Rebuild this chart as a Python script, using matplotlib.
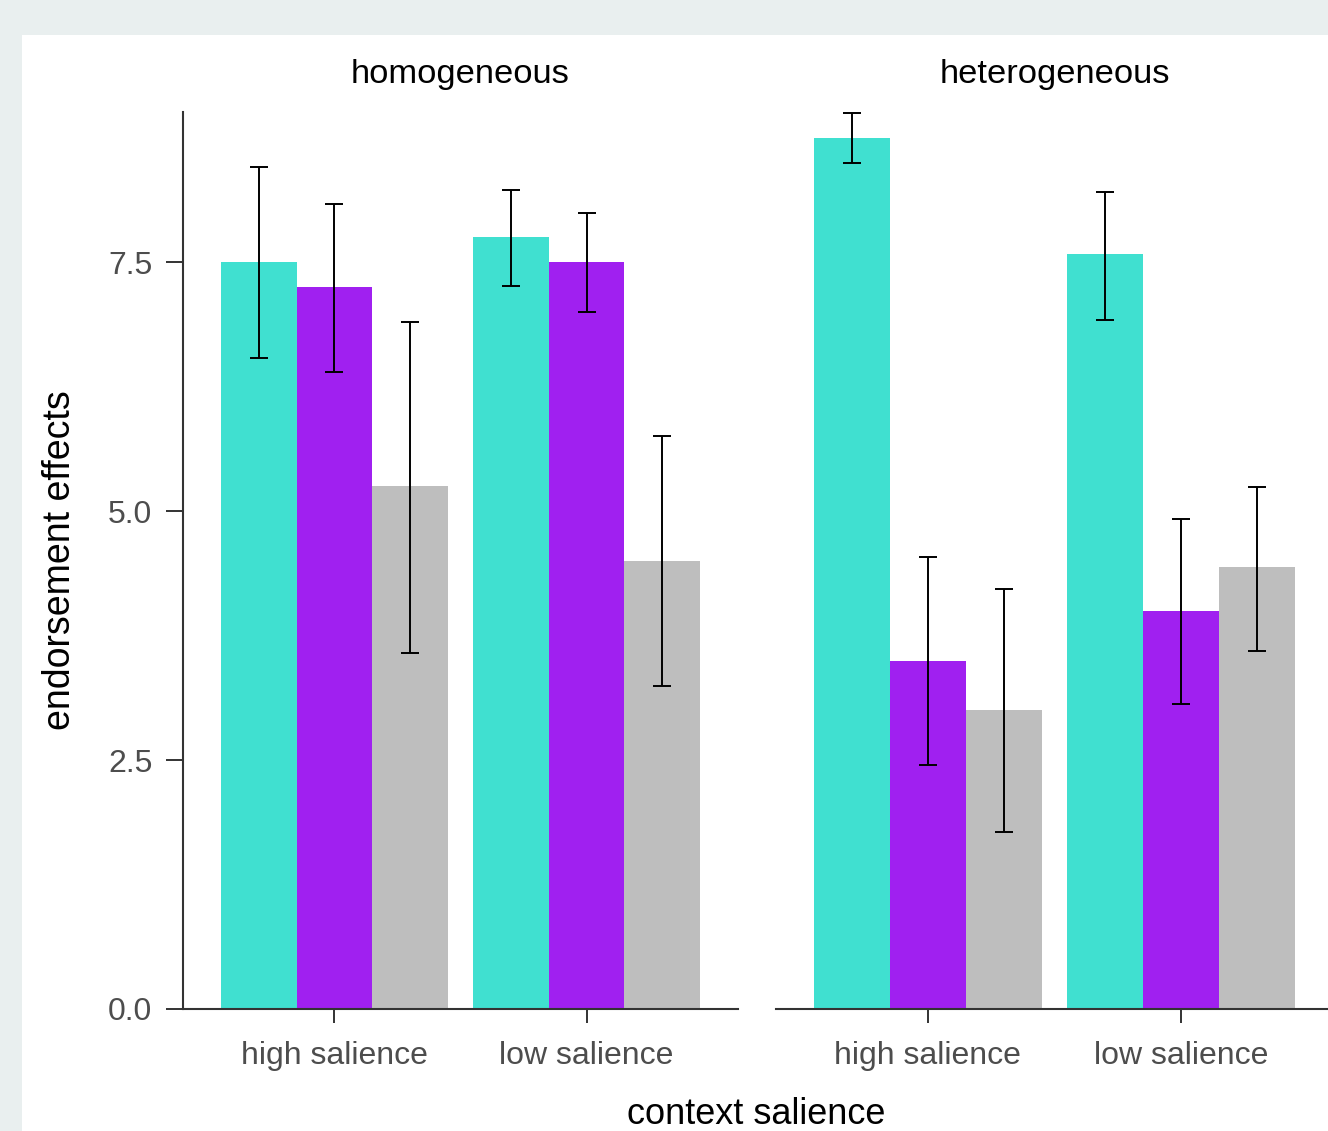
import matplotlib
matplotlib.use("Agg")
import matplotlib.pyplot as plt
from matplotlib.patches import Rectangle
import numpy as np

plt.rcParams['font.family'] = ['Liberation Sans', 'DejaVu Sans']

panels = ["homogeneous", "heterogeneous"]
categories = ["high salience", "low salience"]
series_colors = ["#40E0D0", "#A020F0", "#BEBEBE"]

# values[panel][category][series]
means = {
    "homogeneous": [[7.50, 7.25, 5.25], [7.75, 7.50, 4.50]],
    "heterogeneous": [[8.75, 3.50, 3.00], [7.58, 4.00, 4.44]],
}
upper = {
    "homogeneous": [[8.46, 8.09, 6.90], [8.23, 8.00, 5.76]],
    "heterogeneous": [[9.00, 4.54, 4.22], [8.21, 4.92, 5.24]],
}
lower = {
    "homogeneous": [[6.54, 6.40, 3.58], [7.26, 7.00, 3.24]],
    "heterogeneous": [[8.50, 2.45, 1.78], [6.92, 3.06, 3.60]],
}
yticks = [0.0, 2.5, 5.0, 7.5]
ytick_labels = ["0.0", "2.5", "5.0", "7.5"]

W, H = 1328, 1131
fig = plt.figure(figsize=(W / 100, H / 100), dpi=100)
fig.patch.set_facecolor("#E9EFEF")
bg = Rectangle((22 / W, 0), 1 - 22 / W, 1 - 35 / H,
               transform=fig.transFigure, facecolor="white",
               edgecolor="none", zorder=-10)
fig.add_artist(bg)

bottom = (H - 1009) / H
height = (1009 - 112) / H
axes_px = [(183, 738), (776, 1333)]
n_series = 3
bw = 0.9 / n_series
axis_col = "#333333"
tick_col = "#4D4D4D"

for pi, (panel, (x0, x1)) in enumerate(zip(panels, axes_px)):
    ax = fig.add_axes([x0 / W, bottom, (x1 - x0) / W, height])
    ax.set_zorder(1)
    ax.set_facecolor("none")
    xpos = np.arange(1, len(categories) + 1)
    for si in range(n_series):
        m = np.array([means[panel][ci][si] for ci in range(len(categories))])
        up = np.array([upper[panel][ci][si] for ci in range(len(categories))])
        lo = np.array([lower[panel][ci][si] for ci in range(len(categories))])
        xs = xpos + (si - 1) * bw
        ax.bar(xs, m, width=bw, color=series_colors[si], edgecolor="none", zorder=2)
        ax.errorbar(xs, m, yerr=[m - lo, up - m], fmt="none", ecolor="black",
                    elinewidth=1.4, capsize=6.2, capthick=1.4, zorder=3)
    ax.set_xlim(0.4, 2.6)
    ax.set_ylim(0, 9.01)
    ax.set_xticks(xpos)
    ax.set_xticklabels(categories, fontsize=23, color=tick_col)
    ax.tick_params(axis="x", length=10, width=1.4, color=axis_col, pad=13)
    for s in ["top", "right"]:
        ax.spines[s].set_visible(False)
    ax.spines["bottom"].set_linewidth(1.5)
    ax.spines["bottom"].set_color(axis_col)
    if pi == 0:
        ax.set_yticks(yticks)
        ax.set_yticklabels(ytick_labels, fontsize=23, color=tick_col)
        ax.tick_params(axis="y", length=12, width=1.4, color=axis_col, pad=10)
        ax.spines["left"].set_linewidth(1.5)
        ax.spines["left"].set_color(axis_col)
        ax.set_ylabel("endorsement effects", fontsize=27, color="black", labelpad=22)
    else:
        ax.spines["left"].set_visible(False)
        ax.set_yticks([])
    fig.text((x0 + x1) / 2 / W, 1 - 74 / H, panel, fontsize=24.8,
             ha="center", va="center", color="black")

fig.text(756 / W, 1 - 1114 / H, "context salience", fontsize=26,
         ha="center", va="center", color="black")

fig.savefig("out.png", dpi=100, facecolor=fig.get_facecolor())
